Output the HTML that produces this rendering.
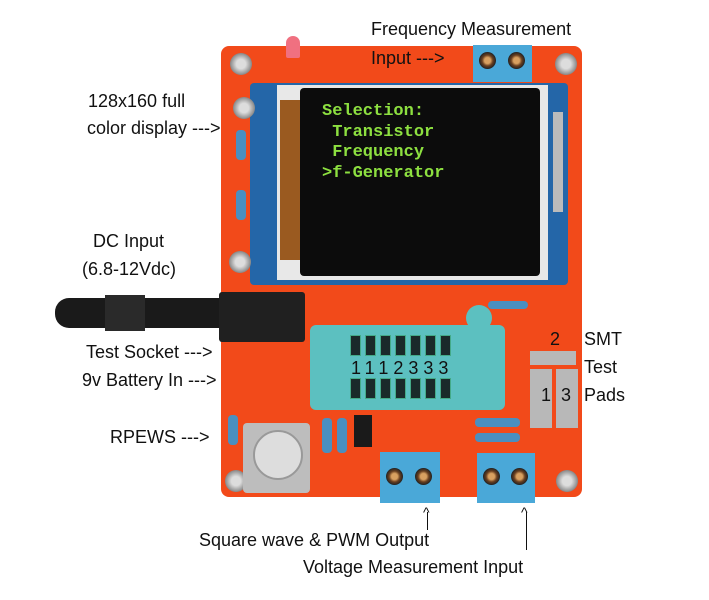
<!DOCTYPE html>
<html><head><meta charset="utf-8"><style>
body{margin:0;width:709px;height:600px;background:#fff;position:relative;overflow:hidden;font-family:"Liberation Sans",sans-serif;}
.a{position:absolute;}
.t{position:absolute;font-size:18px;color:#111;white-space:nowrap;line-height:18px;}
.scr{position:absolute;border-radius:50%;background:radial-gradient(circle,#ddd 30%,#888 70%,#555);}
.slot{position:absolute;width:9px;height:19px;background:#1a2a2a;border:1px solid #4a8;}
.tb{position:absolute;background:#4aa8d8;}
.sc2{position:absolute;width:17px;height:17px;border-radius:50%;background:radial-gradient(circle,#d8a060 25%,#6a4020 45%,#222 70%);}
.res{position:absolute;background:#4a8fc0;border-radius:4px;}
</style></head><body>
<div class="a" style="left:55px;top:298px;width:170px;height:30px;background:#1a1a1a;border-radius:14px 0 0 14px;"></div>
<div class="a" style="left:105px;top:295px;width:40px;height:36px;background:#2a2a2a;"></div>
<div class="a" style="left:221px;top:46px;width:361px;height:451px;background:#f24a1a;border-radius:8px;"></div>
<div class="a" style="left:219px;top:292px;width:86px;height:50px;background:#202020;border-radius:3px;"></div>
<div class="a" style="left:286px;top:36px;width:14px;height:22px;background:#f07080;border-radius:7px 7px 2px 2px;"></div>
<div class="a" style="left:250px;top:83px;width:318px;height:202px;background:#2466a8;border-radius:4px;"></div>
<div class="a" style="left:277px;top:85px;width:271px;height:195px;background:#e8e8e8;"></div>
<div class="a" style="left:280px;top:100px;width:30px;height:160px;background:#9a5a20;"></div>
<div class="a" style="left:300px;top:88px;width:240px;height:188px;background:#0c0c0c;border-radius:4px;"></div>
<div class="a" style="left:553px;top:112px;width:10px;height:100px;background:#bbb;"></div>
<div class="a" style="left:322px;top:102px;font-family:'Liberation Mono',monospace;font-size:17px;line-height:20.5px;color:#8de040;font-weight:bold;white-space:pre;">Selection:
 Transistor
 Frequency
&gt;f-Generator</div>
<div class="scr" style="left:230px;top:53px;width:22px;height:22px;"></div>
<div class="scr" style="left:555px;top:53px;width:22px;height:22px;"></div>
<div class="scr" style="left:233px;top:97px;width:22px;height:22px;"></div>
<div class="scr" style="left:229px;top:251px;width:22px;height:22px;"></div>
<div class="scr" style="left:225px;top:470px;width:22px;height:22px;"></div>
<div class="scr" style="left:556px;top:470px;width:22px;height:22px;"></div>
<div class="res" style="left:236px;top:130px;width:10px;height:30px;"></div>
<div class="res" style="left:236px;top:190px;width:10px;height:30px;"></div>
<div class="res" style="left:228px;top:415px;width:10px;height:30px;"></div>
<div class="res" style="left:322px;top:418px;width:10px;height:35px;"></div>
<div class="res" style="left:337px;top:418px;width:10px;height:35px;"></div>
<div class="res" style="left:475px;top:418px;width:45px;height:9px;"></div>
<div class="res" style="left:475px;top:433px;width:45px;height:9px;"></div>
<div class="res" style="left:488px;top:301px;width:40px;height:8px;"></div>
<div class="a" style="left:354px;top:415px;width:18px;height:32px;background:#1a1a1a;"></div>
<div class="a" style="left:310px;top:325px;width:195px;height:85px;background:#5cc0c0;border-radius:6px;"></div>
<div class="a" style="left:466px;top:305px;width:26px;height:26px;border-radius:50%;background:#5cc0c0;"></div>
<div class="slot" style="left:350px;top:335px"></div><div class="slot" style="left:365px;top:335px"></div><div class="slot" style="left:380px;top:335px"></div><div class="slot" style="left:395px;top:335px"></div><div class="slot" style="left:410px;top:335px"></div><div class="slot" style="left:425px;top:335px"></div><div class="slot" style="left:440px;top:335px"></div>
<div class="slot" style="left:350px;top:378px"></div><div class="slot" style="left:365px;top:378px"></div><div class="slot" style="left:380px;top:378px"></div><div class="slot" style="left:395px;top:378px"></div><div class="slot" style="left:410px;top:378px"></div><div class="slot" style="left:425px;top:378px"></div><div class="slot" style="left:440px;top:378px"></div>
<div class="t" style="left:351px;top:359px;font-size:18px;letter-spacing:5px;">1112333</div>
<div class="a" style="left:530px;top:351px;width:46px;height:14px;background:#b8b8b8;"></div>
<div class="a" style="left:530px;top:369px;width:22px;height:59px;background:#b8b8b8;"></div>
<div class="a" style="left:556px;top:369px;width:22px;height:59px;background:#b8b8b8;"></div>
<div class="a" style="left:243px;top:423px;width:67px;height:70px;background:#bdbdbd;border-radius:4px;"></div>
<div class="a" style="left:253px;top:430px;width:46px;height:46px;background:#ddd;border-radius:50%;border:2px solid #999;"></div>
<div class="tb" style="left:473px;top:45px;width:59px;height:37px;"></div>
<div class="sc2" style="left:479px;top:52px"></div><div class="sc2" style="left:508px;top:52px"></div>
<div class="tb" style="left:380px;top:452px;width:60px;height:51px;"></div>
<div class="sc2" style="left:386px;top:468px"></div><div class="sc2" style="left:415px;top:468px"></div>
<div class="tb" style="left:477px;top:453px;width:58px;height:50px;"></div>
<div class="sc2" style="left:483px;top:468px"></div><div class="sc2" style="left:511px;top:468px"></div>
<div class="t" style="left:371px;top:20px;">Frequency Measurement</div>
<div class="t" style="left:371px;top:49px;">Input ---&gt;</div>
<div class="t" style="left:88px;top:92px;">128x160 full</div>
<div class="t" style="left:87px;top:119px;">color display ---&gt;</div>
<div class="t" style="left:93px;top:232px;">DC Input</div>
<div class="t" style="left:82px;top:260px;">(6.8-12Vdc)</div>
<div class="t" style="left:86px;top:343px;">Test Socket ---&gt;</div>
<div class="t" style="left:82px;top:371px;">9v Battery In ---&gt;</div>
<div class="t" style="left:110px;top:428px;">RPEWS ---&gt;</div>
<div class="t" style="left:550px;top:330px;">2</div>
<div class="t" style="left:584px;top:330px;">SMT</div>
<div class="t" style="left:584px;top:358px;">Test</div>
<div class="t" style="left:541px;top:386px;">1&nbsp;&nbsp;3</div>
<div class="t" style="left:584px;top:386px;">Pads</div>
<div class="t" style="left:199px;top:531px;">Square wave &amp; PWM Output</div>
<div class="t" style="left:303px;top:558px;">Voltage Measurement Input</div>
<div class="t" style="left:423px;top:503px;font-size:14px;">^</div>
<div class="a" style="left:427px;top:512px;width:1px;height:18px;background:#111;"></div>
<div class="t" style="left:521px;top:503px;font-size:14px;">^</div>
<div class="a" style="left:526px;top:512px;width:1px;height:38px;background:#111;"></div>
</body></html>
